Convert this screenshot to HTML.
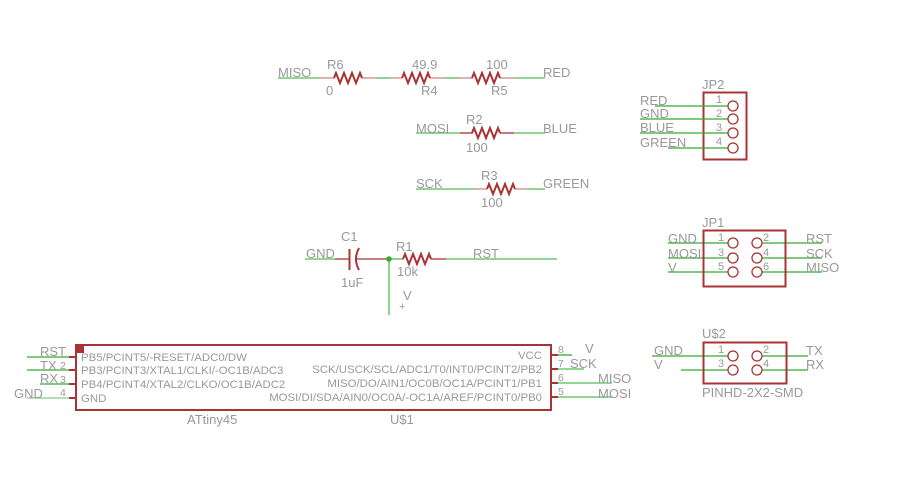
<!DOCTYPE html>
<html><head><meta charset="utf-8"><style>
html,body{margin:0;padding:0;background:#fff;}
svg{display:block;}
text{font-family:"Liberation Sans",sans-serif;fill:#999;}
</style></head><body>
<svg width="900" height="484" viewBox="0 0 900 484" xmlns="http://www.w3.org/2000/svg">
<defs>
<path id="zz" d="M0 0 l2 -5 l4 10 l4 -10 l4 10 l4 -10 l4 10 l4 -10 l2 5" fill="none" stroke="#a33" stroke-width="2"/>
</defs>
<g stroke-width="1.3" fill="none">
<line x1="278" y1="78" x2="320" y2="78" stroke="#5b5"/>
<line x1="320" y1="78" x2="334" y2="78" stroke="#c88"/>
<line x1="362" y1="78" x2="376" y2="78" stroke="#c88"/>
<line x1="376" y1="78" x2="390" y2="78" stroke="#5b5"/>
<line x1="390" y1="78" x2="402" y2="78" stroke="#c88"/>
<line x1="430" y1="78" x2="445" y2="78" stroke="#c88"/>
<line x1="445" y1="78" x2="458" y2="78" stroke="#5b5"/>
<line x1="458" y1="78" x2="473" y2="78" stroke="#c88"/>
<line x1="500" y1="78" x2="515" y2="78" stroke="#c88"/>
<line x1="515" y1="78" x2="545" y2="78" stroke="#5b5"/>
<line x1="416" y1="133" x2="460" y2="133" stroke="#5b5"/>
<line x1="460" y1="133" x2="473" y2="133" stroke="#a33"/>
<line x1="500" y1="133" x2="514" y2="133" stroke="#a33"/>
<line x1="514" y1="133" x2="545" y2="133" stroke="#5b5"/>
<line x1="416" y1="189" x2="474" y2="189" stroke="#5b5"/>
<line x1="474" y1="189" x2="487" y2="189" stroke="#c88"/>
<line x1="515" y1="189" x2="529" y2="189" stroke="#c88"/>
<line x1="529" y1="189" x2="545" y2="189" stroke="#5b5"/>
<line x1="305" y1="259" x2="335" y2="259" stroke="#5b5"/>
<line x1="335" y1="259" x2="349" y2="259" stroke="#a33"/>
<line x1="357" y1="259" x2="389" y2="259" stroke="#a33"/>
<line x1="389" y1="259" x2="403" y2="259" stroke="#5b5"/>
<line x1="431" y1="259" x2="446" y2="259" stroke="#a33"/>
<line x1="446" y1="259" x2="557" y2="259" stroke="#5b5"/>
<line x1="389" y1="259" x2="389" y2="315" stroke="#5b5"/>
<line x1="349.5" y1="249" x2="349.5" y2="270" stroke="#a33" stroke-width="2"/>
<path d="M359 248 Q353 259 359 270" stroke="#a33" stroke-width="2"/>
</g>
<circle cx="389" cy="259" r="2.8" fill="#3a3"/>
<use href="#zz" x="334" y="78"/><use href="#zz" x="402" y="78"/><use href="#zz" x="472" y="78"/>
<use href="#zz" x="472" y="133"/><use href="#zz" x="487" y="189"/><use href="#zz" x="403" y="259"/>
<g font-size="13">
<text x="278" y="77">MISO</text><text x="327" y="69">R6</text><text x="326" y="95">0</text>
<text x="412" y="69">49.9</text><text x="421" y="95">R4</text><text x="486" y="69">100</text><text x="491" y="95">R5</text>
<text x="543" y="77">RED</text>
<text x="416" y="133">MOSI</text><text x="466" y="124">R2</text><text x="466" y="152">100</text><text x="543" y="133">BLUE</text>
<text x="416" y="188">SCK</text><text x="481" y="180">R3</text><text x="481" y="207">100</text><text x="543" y="188">GREEN</text>
<text x="306" y="258">GND</text><text x="341" y="241">C1</text><text x="341" y="287">1uF</text>
<text x="396" y="251">R1</text><text x="397" y="276">10k</text><text x="473" y="258">RST</text>
<text x="403" y="300">V</text>
</g>
<text x="399" y="310" font-size="11">+</text>
<rect x="76" y="345" width="475" height="65" fill="none" stroke="#a33" stroke-width="2"/>
<rect x="76" y="345" width="8" height="8" fill="#a33"/>
<g stroke-width="1.3">
<line x1="27" y1="357" x2="69" y2="357" stroke="#3a3"/><line x1="27" y1="370" x2="69" y2="370" stroke="#3a3"/>
<line x1="40" y1="384" x2="69" y2="384" stroke="#3a3"/><line x1="27" y1="398" x2="69" y2="398" stroke="#8c8"/>
<line x1="69" y1="357" x2="76" y2="357" stroke="#a33" stroke-width="2"/><line x1="69" y1="370" x2="76" y2="370" stroke="#a33" stroke-width="2"/>
<line x1="69" y1="384" x2="76" y2="384" stroke="#a33" stroke-width="2"/><line x1="69" y1="398" x2="76" y2="398" stroke="#a33" stroke-width="2"/>
<line x1="551" y1="355" x2="558" y2="355" stroke="#a33" stroke-width="2"/><line x1="551" y1="369" x2="558" y2="369" stroke="#a33" stroke-width="2"/>
<line x1="551" y1="383" x2="558" y2="383" stroke="#a33" stroke-width="2"/><line x1="551" y1="397" x2="558" y2="397" stroke="#a33" stroke-width="2"/>
<line x1="558" y1="355" x2="572" y2="355" stroke="#3a3"/><line x1="558" y1="369" x2="584" y2="369" stroke="#5b5"/>
<line x1="558" y1="383" x2="612" y2="383" stroke="#5b5"/><line x1="558" y1="397" x2="612" y2="397" stroke="#5b5"/>
</g>
<g font-size="11.4">
<text x="81" y="361">PB5/PCINT5/-RESET/ADC0/DW</text>
<text x="81" y="374">PB3/PCINT3/XTAL1/CLKI/-OC1B/ADC3</text>
<text x="81" y="388">PB4/PCINT4/XTAL2/CLKO/OC1B/ADC2</text>
<text x="81" y="402">GND</text>
<g text-anchor="end">
<text x="542" y="359">VCC</text>
<text x="542" y="373">SCK/USCK/SCL/ADC1/T0/INT0/PCINT2/PB2</text>
<text x="542" y="387">MISO/DO/AIN1/OC0B/OC1A/PCINT1/PB1</text>
<text x="542" y="401">MOSI/DI/SDA/AIN0/OC0A/-OC1A/AREF/PCINT0/PB0</text>
</g>
</g>
<g font-size="10.5">
<text x="60" y="369">2</text><text x="60" y="383">3</text><text x="60" y="396">4</text>
<text x="558" y="353">8</text><text x="558" y="367">7</text><text x="558" y="381">6</text><text x="558" y="395">5</text>
</g>
<g font-size="13">
<text x="40" y="356">RST</text><text x="40" y="370">TX</text><text x="40" y="383">RX</text><text x="14" y="398">GND</text>
<text x="585" y="353">V</text><text x="570" y="368">SCK</text><text x="598" y="383">MISO</text><text x="598" y="398">MOSI</text>
<text x="187" y="424">ATtiny45</text><text x="390" y="424">U$1</text>
</g>
<rect x="703.5" y="92.5" width="43" height="67" fill="none" stroke="#a33" stroke-width="2"/>
<g stroke="#3a3" stroke-width="1.3">
<line x1="655" y1="106" x2="728" y2="106"/><line x1="640" y1="119" x2="728" y2="119"/>
<line x1="640" y1="133" x2="738" y2="133"/><line x1="668" y1="148" x2="728" y2="148"/>
<line x1="668" y1="243" x2="728" y2="243"/><line x1="668" y1="258" x2="738" y2="258"/><line x1="668" y1="272" x2="728" y2="272"/>
<line x1="762" y1="243" x2="822" y2="243"/><line x1="762" y1="258" x2="822" y2="258"/><line x1="762" y1="272" x2="822" y2="272"/>
<line x1="652" y1="356" x2="728" y2="356"/><line x1="681" y1="370" x2="728" y2="370"/>
<line x1="762" y1="356" x2="808" y2="356"/><line x1="752" y1="370" x2="808" y2="370"/>
</g>
<g fill="#fff" stroke="#a33" stroke-width="1.3">
<circle cx="733" cy="106" r="5"/><circle cx="733" cy="119" r="5"/><circle cx="733" cy="133" r="5"/><circle cx="733" cy="148" r="5"/>
<circle cx="733" cy="243" r="5"/><circle cx="733" cy="258" r="5"/><circle cx="733" cy="272" r="5"/>
<circle cx="757" cy="243" r="5"/><circle cx="757" cy="258" r="5"/><circle cx="757" cy="272" r="5"/>
<circle cx="733" cy="356" r="5"/><circle cx="733" cy="370" r="5"/><circle cx="757" cy="356" r="5"/><circle cx="757" cy="370" r="5"/>
</g>
<rect x="703.5" y="230.5" width="82" height="56" fill="none" stroke="#a33" stroke-width="2"/>
<rect x="703.5" y="342.5" width="83" height="41" fill="none" stroke="#a33" stroke-width="2"/>
<g font-size="13">
<text x="702" y="89">JP2</text>
<text x="640" y="105">RED</text><text x="640" y="118">GND</text><text x="640" y="132">BLUE</text><text x="640" y="147">GREEN</text>
<text x="702" y="227">JP1</text>
<text x="668" y="243">GND</text><text x="668" y="258">MOSI</text><text x="668" y="272">V</text>
<text x="806" y="243">RST</text><text x="806" y="258">SCK</text><text x="806" y="272">MISO</text>
<text x="702" y="338">U$2</text>
<text x="654" y="355">GND</text><text x="654" y="369">V</text>
<text x="806" y="355">TX</text><text x="806" y="369">RX</text>
<text x="702" y="397">PINHD-2X2-SMD</text>
</g>
<g font-size="11">
<text x="716" y="103">1</text><text x="716" y="117">2</text><text x="716" y="131">3</text><text x="716" y="145">4</text>
<text x="718" y="241">1</text><text x="718" y="256">3</text><text x="718" y="270">5</text>
<text x="763" y="241">2</text><text x="763" y="256">4</text><text x="763" y="270">6</text>
<text x="718" y="353">1</text><text x="718" y="367">3</text><text x="763" y="353">2</text><text x="763" y="367">4</text>
</g>
</svg>
</body></html>
